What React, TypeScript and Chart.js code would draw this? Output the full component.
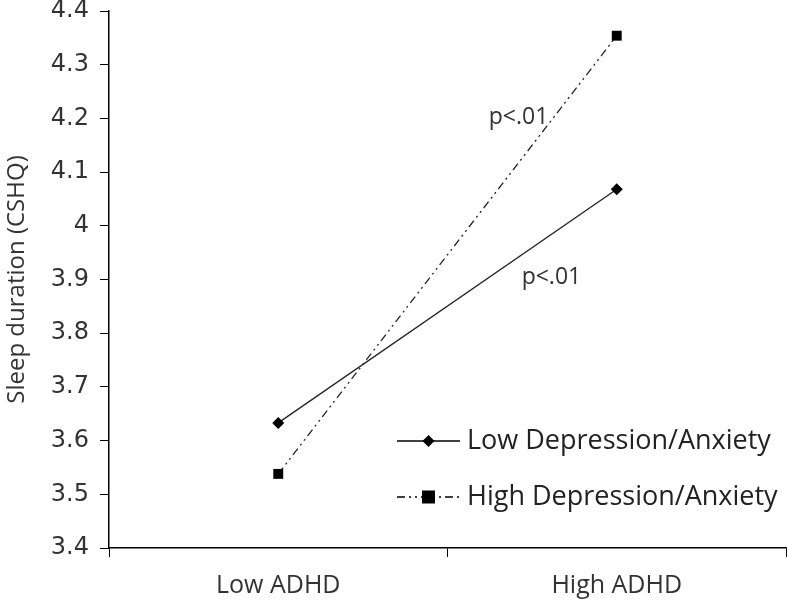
import React, { useEffect, useRef } from "react";
import { Chart, registerables } from "chart.js";

Chart.register(...registerables);

const categories = ["Low ADHD", "High ADHD"];
const lowDepAnx = [3.633, 4.068];
const highDepAnx = [3.538, 4.354];
const seriesLabels = ["Low Depression/Anxiety", "High Depression/Anxiety"];
const annotations = [
  { text: "p<.01", x: 0.71, y: 4.202 },
  { text: "p<.01", x: 0.807, y: 3.903 },
];

const TICK_FONT = "'DejaVu Sans', Verdana, sans-serif";
const LABEL_FONT = "'Open Sans', 'Liberation Sans', sans-serif";

export default function App() {
  const ref = useRef<HTMLCanvasElement | null>(null);

  useEffect(() => {
    document.body.style.margin = "0";
    const canvas = ref.current!;
    const overlay = {
      id: "overlay",
      afterDatasetsDraw(chart: any) {
        const ctx = chart.ctx;
        const xs = chart.scales.x;
        const ys = chart.scales.y;
        ctx.save();
        ctx.font = `23px ${LABEL_FONT}`;
        ctx.textAlign = "center";
        ctx.textBaseline = "middle";
        for (const a of annotations) {
          const px = xs.getPixelForValue(a.x);
          const py = ys.getPixelForValue(a.y);
          ctx.fillStyle = "#333";
          ctx.fillText(a.text, px, py);
        }
        // legend
        const items = chart.data.datasets;
        const lx0 = 397, lx1 = 460, tx = 467;
        const ly = [441, 497];
        items.forEach((ds: any, i: number) => {
          const y = ly[i];
          ctx.strokeStyle = "#000";
          ctx.lineWidth = 1.3;
          ctx.setLineDash(ds.borderDash || []);
          ctx.beginPath();
          ctx.moveTo(lx0, y);
          ctx.lineTo(lx1, y);
          ctx.stroke();
          ctx.setLineDash([]);
          ctx.fillStyle = "#000";
          const cx = (lx0 + lx1) / 2;
          ctx.beginPath();
          if (ds.pointStyle === "rect") {
            ctx.rect(cx - 6.5, y - 6.5, 13, 13);
          } else {
            ctx.moveTo(cx, y - 6);
            ctx.lineTo(cx + 6, y);
            ctx.lineTo(cx, y + 6);
            ctx.lineTo(cx - 6, y);
            ctx.closePath();
          }
          ctx.fill();
          ctx.fillStyle = "#222";
          ctx.font = `27px ${LABEL_FONT}`;
          ctx.textAlign = "left";
          ctx.textBaseline = "middle";
          ctx.fillText(ds.label, tx, y);
        });
        ctx.restore();
      },
    };

    const chart = new Chart(canvas, {
      type: "line",
      data: {
        labels: categories,
        datasets: [
          {
            label: seriesLabels[0],
            data: lowDepAnx,
            borderColor: "#222",
            backgroundColor: "#000",
            borderWidth: 1.3,
            pointStyle: "rectRot",
            pointRadius: 6,
            pointBorderWidth: 0,
          },
          {
            label: seriesLabels[1],
            data: highDepAnx,
            borderColor: "#222",
            backgroundColor: "#000",
            borderWidth: 1.3,
            borderDash: [8, 4, 2, 4, 2, 4],
            pointStyle: "rect",
            pointRadius: 7,
            pointBorderWidth: 0,
          },
        ],
      },
      options: {
        animation: false,
        responsive: false,
        devicePixelRatio: 1,
        layout: { autoPadding: false, padding: { top: 11, right: 1, left: 0, bottom: 0 } },
        plugins: { legend: { display: false }, tooltip: { enabled: false } },
        scales: {
          x: {
            type: "category",
            offset: true,
            grid: {
              offset: true,
              drawOnChartArea: false,
              drawTicks: true,
              tickLength: 9,
              color: "#000",
            },
            border: { color: "#000", width: 1.5 },
            ticks: {
              color: "#333",
              font: { family: LABEL_FONT, size: 25 },
              padding: 14,
            },
            afterFit: (s: any) => {
              s.height = 65;
              s.paddingLeft = 0;
              s.paddingRight = 0;
            },
          },
          y: {
            min: 3.4,
            max: 4.4,
            grid: {
              drawOnChartArea: false,
              drawTicks: true,
              tickLength: 9,
              color: "#000",
            },
            border: { color: "#000", width: 1.5 },
            ticks: {
              stepSize: 0.1,
              color: "#333",
              font: { family: TICK_FONT, size: 24 },
              padding: 11,
              callback: (v: any) => String(Math.round(Number(v) * 10) / 10),
            },
            title: {
              display: true,
              text: "Sleep duration (CSHQ)",
              color: "#333",
              font: { family: LABEL_FONT, size: 24 },
              padding: { top: 3, bottom: 0 },
            },
            afterFit: (s: any) => {
              s.width = 109;
              s.paddingTop = 0;
              s.paddingBottom = 0;
            },
          },
        },
      },
      plugins: [overlay],
    });
    return () => chart.destroy();
  }, []);

  return (
    <div style={{ position: "fixed", left: 0, top: 0, width: 787, height: 613, background: "#fff" }}>
      <canvas ref={ref} width={787} height={613} />
    </div>
  );
}
